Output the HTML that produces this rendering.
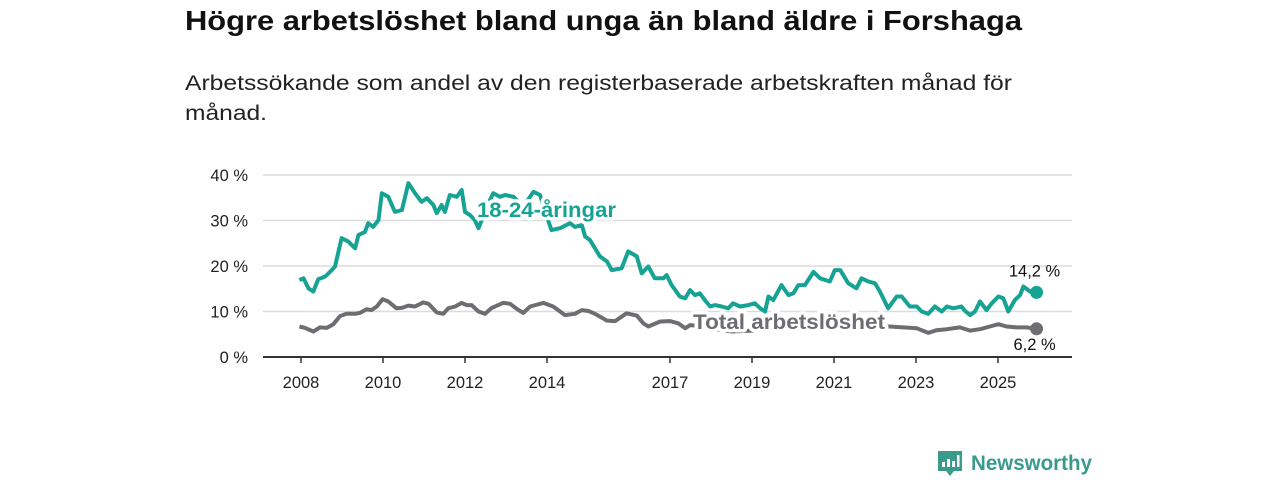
<!DOCTYPE html>
<html><head><meta charset="utf-8"><style>
html,body{margin:0;padding:0;background:#fff;}
svg{display:block;font-family:"Liberation Sans","DejaVu Sans",sans-serif;}
</style></head><body>
<svg id="chart" width="1280" height="480" viewBox="0 0 1280 480">
<text x="185" y="30" font-size="28" font-weight="bold" fill="#111" textLength="837" lengthAdjust="spacingAndGlyphs">Högre arbetslöshet bland unga än bland äldre i Forshaga</text>
<text x="185" y="90" font-size="21.5" fill="#222" textLength="827" lengthAdjust="spacingAndGlyphs">Arbetssökande som andel av den registerbaserade arbetskraften månad för</text>
<text x="185" y="120" font-size="21.5" fill="#222" textLength="82" lengthAdjust="spacingAndGlyphs">månad.</text>
<g id="grid"></g>
<g id="yaxis"></g>
<g id="xaxis"></g>
<g id="series"></g>
<g>
<path d="M938 451 h24 v20 h-8 l-4 5 l-4 -5 h-8 z" fill="#3a9a8c"/>
<rect x="942" y="462" width="3" height="5" fill="#fff"/><rect x="947" y="459" width="3" height="8" fill="#fff"/><rect x="952" y="461" width="3" height="6" fill="#fff"/><rect x="957" y="455" width="2.5" height="12" fill="#fff"/>
<text x="971" y="470" font-size="21" font-weight="bold" fill="#3a9a8c" textLength="121" lengthAdjust="spacingAndGlyphs">Newsworthy</text>
</g>
</svg>
<script>
const yTicks = [0, 10, 20, 30, 40];
const xTickYears = [2008, 2010, 2012, 2014, 2017, 2019, 2021, 2023, 2025];
const youthYears = [2007.96,2008.06,2008.18,2008.30,2008.42,2008.59,2008.75,2008.83,2008.99,2009.15,2009.32,2009.40,2009.56,2009.64,2009.76,2009.89,2009.97,2010.13,2010.29,2010.46,2010.62,2010.78,2010.94,2011.07,2011.23,2011.31,2011.43,2011.51,2011.63,2011.80,2011.92,2012.00,2012.12,2012.24,2012.33,2012.41,2012.53,2012.69,2012.85,2012.98,2013.18,2013.42,2013.67,2013.83,2013.99,2014.11,2014.32,2014.56,2014.68,2014.85,2014.93,2015.05,2015.29,2015.46,2015.58,2015.82,2015.98,2016.19,2016.31,2016.47,2016.63,2016.84,2016.92,2017.04,2017.24,2017.37,2017.49,2017.61,2017.73,2017.85,2017.98,2018.10,2018.26,2018.42,2018.54,2018.71,2018.91,2019.07,2019.20,2019.32,2019.40,2019.52,2019.72,2019.89,2020.01,2020.13,2020.29,2020.50,2020.66,2020.90,2021.02,2021.15,2021.35,2021.55,2021.67,2021.84,2022.00,2022.12,2022.32,2022.53,2022.65,2022.85,2023.02,2023.14,2023.30,2023.46,2023.63,2023.75,2023.91,2024.11,2024.19,2024.32,2024.44,2024.56,2024.72,2024.85,2025.01,2025.13,2025.25,2025.41,2025.54,2025.62,2025.78,2025.94];
const youthValues = [16.9,17.3,15.1,14.4,17.1,17.7,19.1,19.9,26.1,25.4,23.9,26.8,27.5,29.4,28.6,30.1,36.0,35.2,31.9,32.3,38.2,36.0,34.1,34.9,33.4,31.6,33.4,31.9,35.6,35.2,36.7,31.9,31.2,30.1,28.3,30.1,33.0,36.0,35.2,35.6,35.2,33.0,36.3,35.6,31.0,27.9,28.3,29.4,28.6,29.0,26.5,25.7,22.1,21.0,19.1,19.5,23.2,22.1,18.4,19.9,17.3,17.3,18.0,15.8,13.3,12.9,14.7,13.6,14.0,12.5,11.1,11.4,11.1,10.7,11.8,11.1,11.4,11.8,10.7,10.0,13.3,12.5,15.8,13.6,14.0,15.8,15.8,18.7,17.3,16.6,19.1,19.1,16.2,15.1,17.3,16.6,16.2,14.4,10.7,13.3,13.3,11.1,11.1,10.0,9.5,11.1,10.0,11.1,10.7,11.1,10.2,9.2,10.0,12.2,10.3,11.8,13.3,12.9,10.0,12.5,13.6,15.5,14.4,14.2];
const totalYears = [2007.96,2008.10,2008.30,2008.46,2008.63,2008.79,2008.95,2009.11,2009.32,2009.44,2009.60,2009.72,2009.85,2009.99,2010.13,2010.33,2010.46,2010.62,2010.78,2010.98,2011.11,2011.31,2011.47,2011.59,2011.76,2011.92,2012.04,2012.16,2012.33,2012.49,2012.65,2012.93,2013.10,2013.26,2013.42,2013.59,2013.91,2014.15,2014.44,2014.68,2014.85,2015.01,2015.17,2015.46,2015.66,2015.94,2016.19,2016.35,2016.47,2016.76,2017.00,2017.20,2017.37,2017.49,2017.80,2018.20,2018.50,2019.00,2019.50,2020.00,2020.50,2021.00,2021.50,2022.00,2022.32,2022.69,2023.02,2023.30,2023.50,2023.75,2024.07,2024.32,2024.56,2024.80,2025.01,2025.21,2025.45,2025.70,2025.94];
const totalValues = [6.7,6.4,5.6,6.5,6.4,7.2,9.0,9.5,9.5,9.7,10.5,10.3,11.1,12.7,12.2,10.7,10.8,11.3,11.1,12.0,11.7,9.8,9.5,10.7,11.1,11.9,11.4,11.4,10.0,9.5,10.8,11.9,11.7,10.6,9.7,11.1,11.9,11.1,9.2,9.5,10.3,10.1,9.5,8.0,7.9,9.6,9.1,7.4,6.7,7.8,7.9,7.4,6.3,7.0,6.8,6.0,5.6,5.8,6.5,7.3,7.5,8.0,7.0,6.8,6.7,6.5,6.3,5.3,5.9,6.1,6.5,5.8,6.1,6.7,7.2,6.7,6.5,6.5,6.2];
const endLabels = ["14,2 %", "6,2 %"];

const NS = "http://www.w3.org/2000/svg";
const X0 = 301, PX_PER_YEAR = 41, Y0 = 357, PX_PER_PCT = 4.55;
const xs = y => X0 + (y - 2008) * PX_PER_YEAR;
const ys = v => Y0 - v * PX_PER_PCT;
function mk(tag, attrs, parent, text) {
  const e = document.createElementNS(NS, tag);
  for (const k in attrs) e.setAttribute(k, attrs[k]);
  if (text !== undefined) e.textContent = text;
  parent.appendChild(e);
  return e;
}
const grid = document.getElementById('grid');
const yaxis = document.getElementById('yaxis');
const xaxis = document.getElementById('xaxis');
const series = document.getElementById('series');
yTicks.forEach(t => {
  if (t > 0) {
    const g = mk('line', {x1: 263, x2: 1072, y1: ys(t), y2: ys(t), stroke: '#dcdcdc', 'stroke-width': 1.5}, grid);
    
    
  }
  const l = mk('text', {x: 248, y: ys(t) + 6, 'font-size': 16.5, 'text-anchor': 'end', fill: '#222'}, yaxis, t + ' %');
  
  
});
const ax = mk('line', {x1: 263, x2: 1072, y1: Y0, y2: Y0, stroke: '#333', 'stroke-width': 2}, xaxis);


xTickYears.forEach(yr => {
  mk('line', {x1: xs(yr), x2: xs(yr), y1: Y0, y2: Y0 + 6, stroke: '#333', 'stroke-width': 1.5}, xaxis);
  const l = mk('text', {x: xs(yr), y: 388, 'font-size': 16.5, 'text-anchor': 'middle', fill: '#222'}, xaxis, yr);
  
  
});
function path(yrs, vals) {
  return yrs.map((y, i) => (i ? 'L' : 'M') + xs(y).toFixed(1) + ' ' + ys(vals[i]).toFixed(1)).join(' ');
}
const tl = mk('path', {d: path(totalYears, totalValues), fill: 'none', stroke: '#6e6d72', 'stroke-width': 4, 'stroke-linejoin': 'round'}, series);


const yl = mk('path', {d: path(youthYears, youthValues), fill: 'none', stroke: '#16a394', 'stroke-width': 4, 'stroke-linejoin': 'round'}, series);


const ly = youthYears.length - 1, lt = totalYears.length - 1;
const d1 = mk('circle', {cx: xs(youthYears[ly]), cy: ys(youthValues[ly]), r: 6.5, fill: '#16a394'}, series);


const d2 = mk('circle', {cx: xs(totalYears[lt]), cy: ys(totalValues[lt]), r: 6.5, fill: '#6e6d72'}, series);


const e1 = mk('text', {x: xs(youthYears[ly]) - 2, y: ys(youthValues[ly]) - 16, 'font-size': 16.5, 'text-anchor': 'middle', fill: '#111'}, series, endLabels[0]);


const e2 = mk('text', {x: xs(totalYears[lt]) - 2, y: ys(totalValues[lt]) + 21, 'font-size': 16.5, 'text-anchor': 'middle', fill: '#111'}, series, endLabels[1]);


const s1 = mk('text', {x: 477, y: 217, 'font-size': 21, 'font-weight': 'bold', fill: '#16a394', stroke: '#fff', 'stroke-width': 7, 'paint-order': 'stroke', 'stroke-linejoin': 'round', textLength: 139, lengthAdjust: 'spacingAndGlyphs'}, series, '18-24-åringar');


const s2 = mk('text', {x: 693, y: 329, 'font-size': 21, 'font-weight': 'bold', fill: '#6e6d72', stroke: '#fff', 'stroke-width': 7, 'paint-order': 'stroke', 'stroke-linejoin': 'round', textLength: 192, lengthAdjust: 'spacingAndGlyphs'}, series, 'Total arbetslöshet');


</script>
</body></html>
